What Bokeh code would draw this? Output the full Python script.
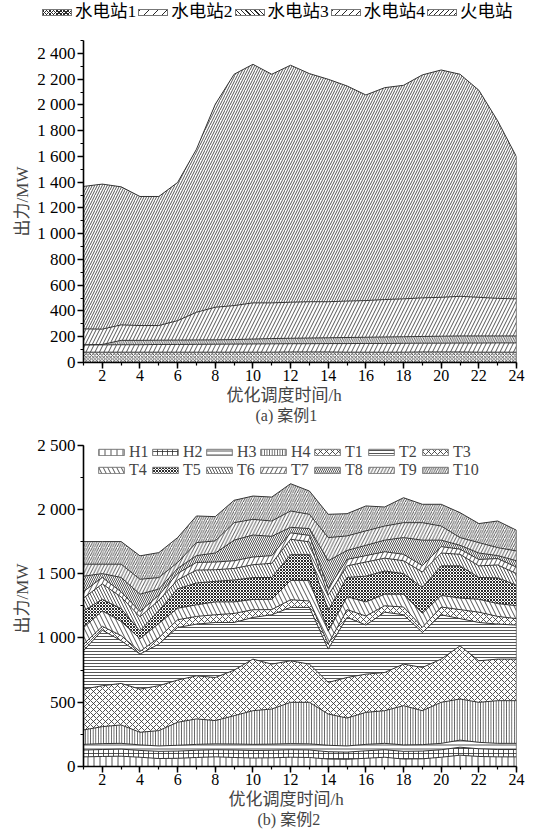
from bokeh.plotting import figure
from bokeh.models import Range1d, FixedTicker, ColumnDataSource, Legend, LegendItem, Title, Div
from bokeh.layouts import column
from bokeh.embed import file_html
from bokeh.resources import INLINE
from bokeh.transform import stack

FONT = "Liberation Serif, Noto Sans CJK SC"

hours = list(range(1, 25))
x_ticks = list(range(2, 25, 2))

# ---------------- case 1 ----------------
case1_labels = ["水电站1", "水电站2", "水电站3", "水电站4", "火电站"]
hydro1 = [80, 80, 80, 80, 80, 80, 80, 80, 80, 80, 80, 82, 82, 82, 80, 80, 80, 80, 82, 82, 82, 80, 80, 80]
hydro2 = [57, 57, 58, 58, 60, 60, 61, 62, 63, 64, 65, 64, 64, 65, 67, 68, 68, 69, 68, 68, 69, 71, 72, 72]
hydro3 = [0, 3, 34, 34, 33, 34, 34, 34, 35, 38, 41, 42, 44, 45, 47, 48, 50, 51, 52, 54, 55, 55, 54, 54]
hydro4 = [124, 119, 120, 115, 114, 151, 215, 253, 264, 281, 277, 280, 282, 280, 283, 285, 291, 294, 300, 302, 308, 300, 292, 288]
thermal = [1106, 1126, 1072, 1002, 1002, 1073, 1266, 1576, 1796, 1852, 1775, 1840, 1771, 1727, 1670, 1596,
           1645, 1658, 1731, 1765, 1724, 1608, 1378, 1103]
case1_series = [hydro1, hydro2, hydro3, hydro4, thermal]
case1_hatch = ["diagonal_cross", "right_diagonal_line", "left_diagonal_line", "right_diagonal_line", "right_diagonal_line"]
case1_scale = [3.5, 9, 4.5, 7, 5]
case1_weight = [0.8, 0.8, 0.8, 0.8, 0.8]
y1_ticks = list(range(0, 2401, 200))
y1_labels = ["0", "200", "400", "600", "800", "1 000", "1 200", "1 400", "1 600", "1 800", "2 000", "2 200", "2 400"]

# ---------------- case 2 ----------------
case2_labels = ["H1", "H2", "H3", "H4", "T1", "T2", "T3", "T4", "T5", "T6", "T7", "T8", "T9", "T10"]
H1 = [75, 78, 80, 72, 62, 64, 70, 75, 70, 66, 68, 72, 70, 58, 56, 64, 72, 58, 60, 72, 88, 78, 75, 75]
H2 = [53, 54, 55, 53, 56, 56, 56, 55, 58, 58, 58, 58, 58, 57, 56, 58, 58, 60, 60, 58, 62, 60, 57, 57]
H3 = [44, 46, 45, 43, 42, 45, 46, 46, 47, 48, 48, 48, 48, 50, 48, 50, 50, 50, 50, 50, 55, 50, 48, 48]
H4 = [112, 132, 143, 98, 119, 179, 198, 181, 220, 262, 273, 321, 323, 243, 217, 249, 254, 305, 264, 319, 320, 311, 332, 332]
T1 = [318, 318, 323, 336, 349, 328, 335, 335, 354, 401, 349, 323, 297, 246, 315, 297, 297, 323, 336, 336, 413, 323, 323, 323]
T2 = [298, 432, 332, 272, 324, 409, 402, 428, 371, 324, 384, 415, 441, 259, 468, 382, 469, 384, 272, 345, 212, 298, 272, 265]
T3 = [50, 30, 40, 20, 50, 60, 60, 60, 70, 60, 40, 60, 50, 40, 60, 70, 50, 60, 40, 60, 70, 80, 60, 50]
T4 = [130, 120, 110, 100, 110, 90, 90, 100, 90, 80, 80, 150, 160, 100, 100, 110, 90, 100, 110, 90, 90, 100, 100, 100]
T5 = [130, 90, 100, 60, 100, 150, 170, 160, 170, 170, 170, 200, 200, 160, 150, 200, 180, 160, 200, 230, 250, 170, 200, 160]
T6 = [100, 120, 90, 110, 80, 70, 100, 90, 90, 100, 110, 120, 100, 120, 90, 110, 100, 100, 120, 100, 90, 90, 100, 90]
T7 = [50, 50, 40, 40, 40, 50, 60, 60, 60, 60, 60, 50, 50, 50, 50, 50, 50, 50, 50, 50, 40, 50, 50, 50]
T8 = [120, 30, 112, 136, 48, 39, 53, 70, 160, 171, 150, 43, 53, 217, 70, 80, 90, 130, 198, 50, 30, 50, 23, 50]
T9 = [93, 73, 103, 116, 89, 46, 101, 94, 136, 122, 119, 127, 111, 180, 113, 112, 110, 116, 136, 110, 60, 81, 62, 76]
T10 = [176, 176, 176, 182, 194, 194, 207, 189, 174, 181, 186, 212, 181, 181, 173, 194, 148, 194, 143, 169, 194, 148, 207, 161]
case2_series = [H1, H2, H3, H4, T1, T2, T3, T4, T5, T6, T7, T8, T9, T10]
case2_hatch = ["vertical_line", "cross", "horizontal_line", "vertical_line", "diagonal_cross", "horizontal_line",
               "diagonal_cross", "left_diagonal_line", "diagonal_cross", "left_diagonal_line", "right_diagonal_line",
               "left_diagonal_line", "right_diagonal_line", "right_diagonal_line"]
case2_scale = [6, 5, 4, 2.6, 6, 3, 6, 9, 3, 6, 9, 4, 6.5, 4.5]
case2_weight = [0.8, 0.8, 0.8, 0.8, 0.8, 0.8, 0.8, 0.8, 1.0, 0.8, 0.8, 0.8, 0.8, 0.8]
y2_ticks = list(range(0, 2501, 500))
y2_labels = ["0", "500", "1 000", "1 500", "2 000", "2 500"]

Y_MAX = 2500


def make_source(series):
    keys = ["s%d" % i for i in range(len(series))]
    data = {"x": hours}
    for k, s in zip(keys, series):
        data[k] = s
    return keys, ColumnDataSource(data)


def legend_items(p, keys, src, labels, hatches, scales, weights):
    items = []
    for i, lab in enumerate(labels):
        r = p.quad(left="x", right="x", bottom=stack(*keys[:i]) if i else 0, top=stack(*keys[:i + 1]),
                   source=src, fill_color="white",
                   hatch_pattern=hatches[i], hatch_scale=scales[i], hatch_color="#2a2a2a",
                   hatch_weight=weights[i], line_color="#777777", line_width=1)
        r.visible = False
        items.append(LegendItem(label=lab, renderers=[r]))
    return items


def css_hatch(pattern, scale):
    g = scale * 0.72
    ln = "#2a2a2a 0 0.9px, {c} 0.9px %.2fpx" % g
    if pattern == "right_diagonal_line":
        return "repeating-linear-gradient(135deg, %s)" % ln.format(c="#fff")
    if pattern == "left_diagonal_line":
        return "repeating-linear-gradient(45deg, %s)" % ln.format(c="#fff")
    # diagonal cross
    return ("repeating-linear-gradient(45deg, %s), repeating-linear-gradient(135deg, %s)"
            % (ln.format(c="transparent"), ln.format(c="#fff")))


def build(series, hatches, scales, weights, yticks, yminor, ylabels, caption,
          height, bl, br, bt, bb, ytop_px, cap_offset):
    frame_h = height - bt - bb
    y_hi = Y_MAX * frame_h / (frame_h - ytop_px)
    p = figure(width=546, height=height, output_backend="svg", toolbar_location=None,
               x_range=Range1d(1, 24), y_range=Range1d(0, y_hi),
               min_border_left=bl, min_border_right=br, min_border_top=bt, min_border_bottom=bb)
    p.outline_line_color = None
    p.xgrid.visible = False
    p.ygrid.visible = False

    keys, src = make_source(series)
    for i, k in enumerate(keys):
        p.varea(x="x", y1=stack(*keys[:i]) if i else 0, y2=stack(*keys[:i + 1]), source=src,
                fill_color="white", hatch_pattern=hatches[i], hatch_scale=scales[i],
                hatch_color="#2a2a2a", hatch_weight=weights[i])
    for i, k in enumerate(keys):
        p.line(x="x", y=stack(*keys[:i + 1]), source=src, line_color="#333333", line_width=1)
    total_last = sum(s[-1] for s in series)
    p.line(x=[hours[-1], hours[-1]], y=[0, total_last], line_color="#333333", line_width=1.2)

    for ax in (p.xaxis[0], p.yaxis[0]):
        ax.axis_line_width = 1.6
        ax.axis_line_color = "black"
        ax.major_tick_line_width = 1.5
        ax.minor_tick_line_width = 1.2
        ax.major_tick_in = 0
        ax.major_tick_out = 6
        ax.minor_tick_in = 0
        ax.minor_tick_out = 3
        ax.major_label_text_font = FONT
        ax.major_label_text_color = "black"
    p.yaxis.bounds = (0, Y_MAX)
    p.xaxis.ticker = FixedTicker(ticks=x_ticks, minor_ticks=hours)
    p.xaxis.major_label_text_font_size = "16px"
    p.xaxis.major_label_standoff = 1
    p.yaxis.ticker = FixedTicker(ticks=yticks, minor_ticks=yminor)
    p.yaxis.major_label_overrides = {t: l for t, l in zip(yticks, ylabels)}
    p.yaxis.major_label_text_font_size = "17px"
    p.yaxis.major_label_standoff = 2
    p.yaxis.axis_label = "出力/MW"
    p.yaxis.axis_label_text_font = FONT
    p.yaxis.axis_label_text_font_style = "normal"
    p.yaxis.axis_label_text_font_size = "17px"
    p.yaxis.axis_label_standoff = 2

    t1 = Title(text="优化调度时间/h", align="left", offset=cap_offset[0], text_font=FONT,
               text_font_size="17px", text_font_style="normal", standoff=0)
    t2 = Title(text=caption, align="left", offset=cap_offset[1], text_font=FONT,
               text_font_size="16px", text_font_style="normal", standoff=0)
    p.add_layout(t1, "below")
    p.add_layout(t2, "below")
    return p, keys, src


# legend strip for case 1 (a Div, so that it is not clipped to a plot frame)
parts = []
for lab, hp, sc in zip(case1_labels, case1_hatch, case1_scale):
    parts.append('<span style="display:inline-block;width:30px;height:7px;border:1px solid #777;'
                 'margin-right:3px;background:%s"></span>' % css_hatch(hp, sc))
    parts.append('<span style="margin-right:2px">%s</span>' % lab)
legend_html = ('<div style="display:flex;align-items:center;height:24px;padding-left:42px;white-space:nowrap;'
               "font-family:'Liberation Serif','Noto Sans CJK SC';font-size:17.5px;color:#000;line-height:1\">"
               + "".join(parts) + "</div>")
p0 = Div(text=legend_html, width=546, height=40, margin=0)

# top panel: frame top is the axis top (2500)
p1, _, _ = build(case1_series, case1_hatch, case1_scale, case1_weight, y1_ticks, list(range(0, 2501, 100)),
                 y1_labels, "(a) 案例1", 390, 83, 29, 0, 68, 0, (143, 172))

# bottom panel: frame extends 14.5 px above the axis top so the legend lies inside it
p2, k2, s2 = build(case2_series, case2_hatch, case2_scale, case2_weight, y2_ticks, list(range(0, 2501, 250)),
                   y2_labels, "(b) 案例2", 399, 81, 30, 0, 63, 14.5, (145, 174))
leg2 = Legend(items=legend_items(p2, k2, s2, case2_labels, case2_hatch, case2_scale, case2_weight),
              location=(12, 287), orientation="horizontal", ncols=7,
              glyph_width=32, glyph_height=8, label_standoff=2, spacing=0,
              padding=0, margin=0, border_line_color=None, background_fill_alpha=0,
              label_text_font=FONT, label_text_font_size="16px", label_height=10)
p2.add_layout(leg2)

layout = column(p0, p1, p2, spacing=0)
open("out.html", "w").write(file_html(layout, INLINE))
